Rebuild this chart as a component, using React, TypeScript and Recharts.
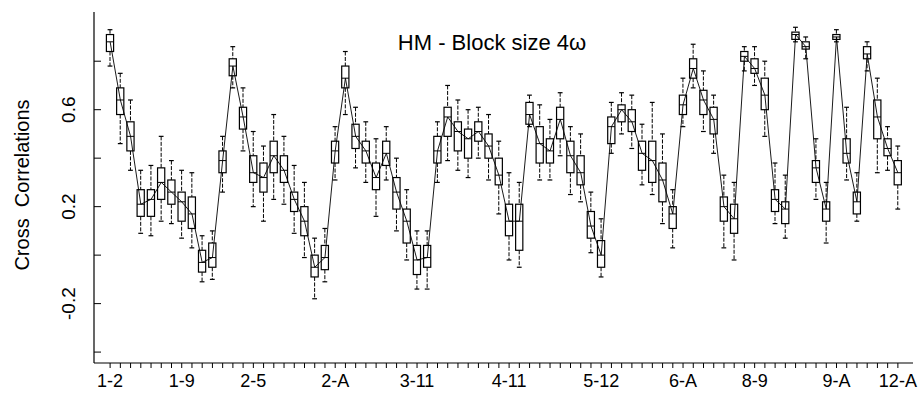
import React from 'react';
import { ComposedChart, Bar, Line, XAxis, YAxis } from 'recharts';

const ITEMS = ['1', '2', '3', '4', '5', '6', '7', '8', '9', '10', '11', '12', 'A'];

// every pair i-j of the items, in order: 1-2, 1-3, ... 12-A
const PAIRS: string[] = [];
ITEMS.forEach((a, i) => ITEMS.slice(i + 1).forEach((b) => PAIRS.push(`${a}-${b}`)));

const SHOWN_LABELS = ['1-2', '1-9', '2-5', '2-A', '3-11', '4-11', '5-12', '6-A', '8-9', '9-A', '12-A'];
const Y_TICKS = [-0.4, -0.2, 0, 0.2, 0.4, 0.6, 0.8];
const Y_LABELLED = [-0.2, 0.2, 0.6];

const WHISK_LO = [
  0.78, 0.46, 0.35, 0.09, 0.08, 0.14, 0.13, 0.07, 0.03, -0.11, -0.1, 0.26,
  0.69, 0.43, 0.2, 0.14, 0.23, 0.21, 0.09, -0.01, -0.18, -0.11, 0.31,
  0.58, 0.36, 0.3, 0.16, 0.31, 0.1, -0.02, -0.14, -0.14, 0.3,
  0.39, 0.35, 0.32, 0.4, 0.31, 0.17, -0.02, -0.05, 0.53,
  0.31, 0.31, 0.41, 0.25, 0.22, 0.01, -0.09, 0.42,
  0.5, 0.44, 0.29, 0.25, 0.13, 0.03, 0.53,
  0.69, 0.51, 0.42, 0.03, -0.02, 0.76,
  0.7, 0.49, 0.13, 0.07, 0.88,
  0.81, 0.23, 0.05, 0.88,
  0.31, 0.14, 0.76,
  0.34, 0.35,
  0.19,
];
const Q1 = [
  0.84, 0.58, 0.43, 0.16, 0.16, 0.23, 0.21, 0.14, 0.11, -0.07, -0.05, 0.34,
  0.74, 0.52, 0.3, 0.26, 0.34, 0.3, 0.18, 0.08, -0.09, -0.06, 0.38,
  0.69, 0.44, 0.38, 0.27, 0.37, 0.19, 0.05, -0.08, -0.05, 0.38,
  0.49, 0.43, 0.4, 0.47, 0.4, 0.29, 0.08, 0.02, 0.54,
  0.38, 0.38, 0.48, 0.34, 0.29, 0.07, -0.05, 0.46,
  0.55, 0.51, 0.35, 0.3, 0.22, 0.11, 0.58,
  0.73, 0.58, 0.5, 0.14, 0.09, 0.8,
  0.75, 0.6, 0.18, 0.13, 0.89,
  0.85, 0.3, 0.14, 0.89,
  0.38, 0.17, 0.81,
  0.48, 0.41,
  0.29,
];
const MEDIAN = [
  0.88, 0.64, 0.49, 0.21, 0.23, 0.3, 0.26, 0.22, 0.17, -0.03, -0.01, 0.39,
  0.78, 0.57, 0.34, 0.32, 0.41, 0.35, 0.23, 0.14, -0.05, -0.01, 0.43,
  0.73, 0.49, 0.43, 0.32, 0.42, 0.26, 0.14, -0.02, -0.01, 0.43,
  0.57, 0.51, 0.48, 0.51, 0.45, 0.33, 0.14, 0.14, 0.58,
  0.46, 0.43, 0.56, 0.41, 0.34, 0.12, 0.0, 0.53,
  0.6, 0.55, 0.42, 0.39, 0.31, 0.17, 0.62,
  0.77, 0.64, 0.56, 0.2, 0.15, 0.82,
  0.77, 0.66, 0.23, 0.19, 0.91,
  0.86, 0.36, 0.19, 0.9,
  0.42, 0.22, 0.83,
  0.57, 0.44,
  0.34,
];
const Q3 = [
  0.91, 0.69, 0.55, 0.27, 0.27, 0.36, 0.31, 0.26, 0.24, 0.02, 0.05, 0.43,
  0.81, 0.61, 0.41, 0.38, 0.47, 0.41, 0.26, 0.2, 0.0, 0.04, 0.47,
  0.78, 0.54, 0.47, 0.38, 0.47, 0.32, 0.19, 0.04, 0.04, 0.49,
  0.61, 0.55, 0.52, 0.55, 0.5, 0.4, 0.21, 0.21, 0.63,
  0.53, 0.48, 0.61, 0.47, 0.41, 0.18, 0.06, 0.57,
  0.62, 0.6, 0.47, 0.47, 0.38, 0.2, 0.66,
  0.81, 0.68, 0.61, 0.24, 0.21, 0.84,
  0.81, 0.73, 0.27, 0.22, 0.92,
  0.88, 0.39, 0.22, 0.91,
  0.48, 0.26, 0.86,
  0.64, 0.48,
  0.39,
];
const WHISK_HI = [
  0.93, 0.75, 0.64, 0.35, 0.37, 0.49, 0.39, 0.35, 0.34, 0.08, 0.1, 0.49,
  0.86, 0.69, 0.51, 0.45, 0.58, 0.49, 0.37, 0.3, 0.07, 0.11, 0.53,
  0.84, 0.61, 0.55, 0.48, 0.53, 0.4, 0.27, 0.1, 0.1, 0.55,
  0.7, 0.64, 0.6, 0.61, 0.58, 0.47, 0.34, 0.3, 0.66,
  0.62, 0.56, 0.67, 0.53, 0.5, 0.26, 0.15, 0.63,
  0.67, 0.66, 0.54, 0.63, 0.5, 0.27, 0.73,
  0.87, 0.76, 0.66, 0.33, 0.3, 0.86,
  0.86, 0.8, 0.38, 0.33, 0.94,
  0.9, 0.48, 0.3, 0.93,
  0.61, 0.34, 0.88,
  0.73, 0.53,
  0.45,
];

const data = PAIRS.map((pair, i) => ({
  pair,
  lo: WHISK_LO[i],
  q1: Q1[i],
  med: MEDIAN[i],
  q3: Q3[i],
  hi: WHISK_HI[i],
}));

const FONT = 'Liberation Sans, Arial, sans-serif';
const W = 921;
const H = 396;
const PLOT_LEFT = 94;
const PLOT_TOP = 12;
const PLOT_RIGHT = 913;
const PLOT_BOTTOM = 363;

// one ranged bar per pair spans the whiskers; the box and median are placed inside it
const BoxShape = (props: any) => {
  const { x, y, width, height, payload } = props;
  if (payload == null) return null;
  const cx = x + width / 2;
  const { lo, hi, q1, q3, med } = payload;
  const py = (v: number) => y + height - (height * (v - lo)) / (hi - lo);
  const bw = 3.6;
  const cap = 2.4;
  return (
    <g stroke="#000" fill="none">
      <line x1={cx} x2={cx} y1={py(hi)} y2={py(q3)} strokeDasharray="4 1.5" strokeWidth={1} />
      <line x1={cx} x2={cx} y1={py(q1)} y2={py(lo)} strokeDasharray="4 1.5" strokeWidth={1} />
      <line x1={cx - cap} x2={cx + cap} y1={py(hi)} y2={py(hi)} strokeWidth={1.2} />
      <line x1={cx - cap} x2={cx + cap} y1={py(lo)} y2={py(lo)} strokeWidth={1.2} />
      <rect x={cx - bw} y={py(q3)} width={bw * 2} height={py(q1) - py(q3)} fill="#fff" strokeWidth={1.2} />
      <line x1={cx - bw} x2={cx + bw} y1={py(med)} y2={py(med)} strokeWidth={1} />
    </g>
  );
};

const XTick = (props: any) => {
  const { x, payload } = props;
  const label = payload.value as string;
  return (
    <g>
      <line x1={x} x2={x} y1={PLOT_BOTTOM} y2={PLOT_BOTTOM + 5} stroke="#000" strokeWidth={1} />
      {SHOWN_LABELS.includes(label) && (
        <text x={x} y={387} textAnchor="middle" fontSize={18} fontFamily={FONT} fill="#000">
          {label}
        </text>
      )}
    </g>
  );
};

const YTick = (props: any) => {
  const { y, payload } = props;
  const v = payload.value as number;
  const show = Y_LABELLED.some((t) => Math.abs(t - v) < 1e-6);
  const lx = 75;
  return (
    <g>
      <line x1={PLOT_LEFT} x2={PLOT_LEFT + 7} y1={y} y2={y} stroke="#000" strokeWidth={1} />
      {show && (
        <text
          x={lx}
          y={y}
          transform={`rotate(-90, ${lx}, ${y})`}
          textAnchor="middle"
          fontSize={19}
          fontFamily={FONT}
          fill="#000"
        >
          {v.toFixed(1)}
        </text>
      )}
    </g>
  );
};

const DOMAIN: [number, number] = [-0.445, 1.003];

export default function App() {
  return (
    <div style={{ position: 'absolute', left: 0, top: 0, width: W, height: H, background: '#fff' }}>
      <ComposedChart
        width={W}
        height={H}
        data={data}
        margin={{ top: PLOT_TOP, right: W - PLOT_RIGHT, bottom: 0, left: 0 }}
      >
        <XAxis
          dataKey="pair"
          interval={0}
          height={H - PLOT_BOTTOM}
          padding={{ left: 11, right: 10 }}
          tick={<XTick />}
          tickLine={false}
          axisLine={{ stroke: '#000', strokeWidth: 1.2 }}
        />
        <XAxis
          xAxisId="top"
          orientation="top"
          dataKey="pair"
          height={0}
          tick={false}
          tickLine={false}
          axisLine={{ stroke: '#000', strokeWidth: 1.2 }}
        />
        <YAxis
          type="number"
          domain={DOMAIN}
          allowDataOverflow
          ticks={Y_TICKS}
          width={PLOT_LEFT}
          tick={<YTick />}
          tickLine={false}
          axisLine={{ stroke: '#000', strokeWidth: 1.2 }}
        />
        <YAxis
          yAxisId="right"
          orientation="right"
          type="number"
          domain={DOMAIN}
          allowDataOverflow
          width={0}
          tick={false}
          tickLine={false}
          axisLine={{ stroke: '#000', strokeWidth: 1.2 }}
        />
        <Bar
          dataKey={(d: any) => [d.lo, d.hi]}
          barSize={8}
          shape={<BoxShape />}
          isAnimationActive={false}
        />
        <Line
          dataKey="med"
          type="linear"
          stroke="#000"
          strokeWidth={0.9}
          dot={false}
          isAnimationActive={false}
        />
      </ComposedChart>
      <svg
        width={W}
        height={H}
        style={{ position: 'absolute', left: 0, top: 0, pointerEvents: 'none' }}
      >
        <text x={492} y={50} textAnchor="middle" fontSize={22} fontFamily={FONT} fill="#000">
          HM - Block size 4ω
        </text>
        <text
          x={29}
          y={185}
          transform="rotate(-90, 29, 185)"
          textAnchor="middle"
          fontSize={20}
          fontFamily={FONT}
          fill="#000"
          style={{ whiteSpace: 'pre' }}
        >
          {'Cross  Correlations'}
        </text>
      </svg>
    </div>
  );
}
